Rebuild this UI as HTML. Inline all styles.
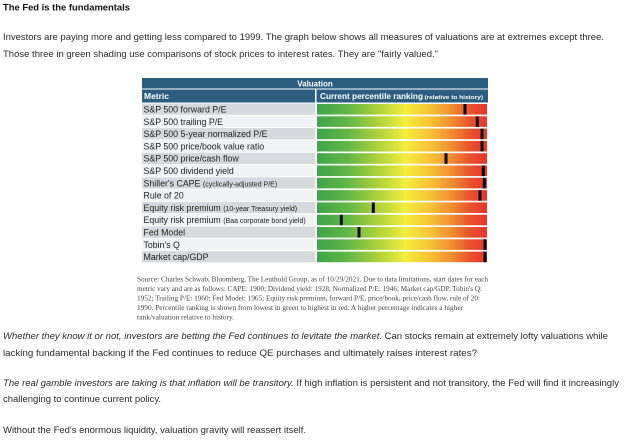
<!DOCTYPE html>
<html>
<head>
<meta charset="utf-8">
<style>
  html,body{margin:0;padding:0;background:#fff;}
  svg{display:block;}
  .p{font-family:"Liberation Sans",Arial,sans-serif;font-size:9.4px;fill:#2a2a2a;}
  .lb{font-family:"Liberation Sans",Arial,sans-serif;font-size:8.8px;fill:#1e1e1e;}
  .hd{font-family:"Liberation Sans",Arial,sans-serif;font-weight:bold;fill:#fff;}
  .src{font-family:"Liberation Serif","Times New Roman",serif;font-size:7.1px;fill:#444;}
</style>
</head>
<body>
<svg width="624" height="441" viewBox="0 0 624 441" xmlns="http://www.w3.org/2000/svg">
  <defs>
    <linearGradient id="g" gradientUnits="userSpaceOnUse" x1="317" y1="0" x2="487" y2="0">
      <stop offset="0" stop-color="#3da54a"/>
      <stop offset="0.18" stop-color="#62b646"/>
      <stop offset="0.36" stop-color="#aed33c"/>
      <stop offset="0.52" stop-color="#f4ee3d"/>
      <stop offset="0.66" stop-color="#f6c535"/>
      <stop offset="0.79" stop-color="#f08f2f"/>
      <stop offset="0.9" stop-color="#e9512c"/>
      <stop offset="1" stop-color="#e4372b"/>
    </linearGradient>
  </defs>

  <!-- Title & intro -->
  <text x="3" y="10.5" font-family="Liberation Sans, Arial, sans-serif" font-weight="bold" font-size="9.4" fill="#111" textLength="127" lengthAdjust="spacingAndGlyphs">The Fed is the fundamentals</text>
  <text class="p" x="3" y="40" textLength="601" lengthAdjust="spacingAndGlyphs">Investors are paying more and getting less compared to 1999. The graph below shows all measures of valuations are at extremes except three.</text>
  <text class="p" x="3" y="57" textLength="435" lengthAdjust="spacingAndGlyphs">Those three in green shading use comparisons of stock prices to interest rates. They are "fairly valued."</text>

  <!-- Chart header -->
  <rect x="142" y="78" width="346" height="10.5" fill="#2d5e7f"/>
  <text class="hd" x="315" y="86.5" font-size="8" text-anchor="middle">Valuation</text>
  <rect x="142" y="89.5" width="173" height="13" fill="#2d5e7f"/>
  <rect x="316.5" y="89.5" width="171.5" height="13" fill="#2d5e7f"/>
  <text class="hd" x="144" y="99" font-size="8.5" textLength="25" lengthAdjust="spacingAndGlyphs">Metric</text>
  <text class="hd" x="320" y="99" font-size="8.2" textLength="103" lengthAdjust="spacingAndGlyphs">Current percentile ranking</text>
  <text class="hd" x="424.5" y="99" font-size="5.9" textLength="58.5" lengthAdjust="spacingAndGlyphs">(relative to history)</text>

  <!-- Rows -->
  <g>
    <rect x="142" y="103.5" width="173" height="11.3" fill="#d6d9dd"/>
    <rect x="142" y="115.8" width="173" height="11.3" fill="#f1f2f3"/>
    <rect x="142" y="128.1" width="173" height="11.3" fill="#d6d9dd"/>
    <rect x="142" y="140.4" width="173" height="11.3" fill="#f1f2f3"/>
    <rect x="142" y="152.7" width="173" height="11.3" fill="#d6d9dd"/>
    <rect x="142" y="165.0" width="173" height="11.3" fill="#f1f2f3"/>
    <rect x="142" y="177.3" width="173" height="11.3" fill="#d6d9dd"/>
    <rect x="142" y="189.6" width="173" height="11.3" fill="#f1f2f3"/>
    <rect x="142" y="201.9" width="173" height="11.3" fill="#d6d9dd"/>
    <rect x="142" y="214.2" width="173" height="11.3" fill="#f1f2f3"/>
    <rect x="142" y="226.5" width="173" height="11.3" fill="#d6d9dd"/>
    <rect x="142" y="238.8" width="173" height="11.3" fill="#f1f2f3"/>
    <rect x="142" y="251.1" width="173" height="11.3" fill="#d6d9dd"/>

    <rect x="317" y="104.0" width="170" height="10.6" fill="url(#g)"/>
    <rect x="317" y="116.3" width="170" height="10.6" fill="url(#g)"/>
    <rect x="317" y="128.6" width="170" height="10.6" fill="url(#g)"/>
    <rect x="317" y="140.9" width="170" height="10.6" fill="url(#g)"/>
    <rect x="317" y="153.2" width="170" height="10.6" fill="url(#g)"/>
    <rect x="317" y="165.5" width="170" height="10.6" fill="url(#g)"/>
    <rect x="317" y="177.8" width="170" height="10.6" fill="url(#g)"/>
    <rect x="317" y="190.1" width="170" height="10.6" fill="url(#g)"/>
    <rect x="317" y="202.4" width="170" height="10.6" fill="url(#g)"/>
    <rect x="317" y="214.7" width="170" height="10.6" fill="url(#g)"/>
    <rect x="317" y="227.0" width="170" height="10.6" fill="url(#g)"/>
    <rect x="317" y="239.3" width="170" height="10.6" fill="url(#g)"/>
    <rect x="317" y="251.6" width="170" height="10.6" fill="url(#g)"/>

    <g fill="#0a0a0a">
      <rect x="463.5" y="104.0" width="3" height="10.6"/>
      <rect x="475.8" y="116.3" width="3" height="10.6"/>
      <rect x="480.5" y="128.6" width="3" height="10.6"/>
      <rect x="480.5" y="140.9" width="3" height="10.6"/>
      <rect x="444.5" y="153.2" width="3" height="10.6"/>
      <rect x="481.8" y="165.5" width="3" height="10.6"/>
      <rect x="482.8" y="177.8" width="3" height="10.6"/>
      <rect x="478.5" y="190.1" width="3" height="10.6"/>
      <rect x="371.8" y="202.4" width="3" height="10.6"/>
      <rect x="339.8" y="214.7" width="3" height="10.6"/>
      <rect x="357.5" y="227.0" width="3" height="10.6"/>
      <rect x="483.5" y="239.3" width="3" height="10.6"/>
      <rect x="483.5" y="251.6" width="3" height="10.6"/>
    </g>

    <text class="lb" x="143.5" y="112.5">S&amp;P 500 forward P/E</text>
    <text class="lb" x="143.5" y="124.8">S&amp;P 500 trailing P/E</text>
    <text class="lb" x="143.5" y="137.1">S&amp;P 500 5-year normalized P/E</text>
    <text class="lb" x="143.5" y="149.4">S&amp;P 500 price/book value ratio</text>
    <text class="lb" x="143.5" y="161.7">S&amp;P 500 price/cash flow</text>
    <text class="lb" x="143.5" y="174.0">S&amp;P 500 dividend yield</text>
    <text class="lb" x="143.5" y="186.3">Shiller's CAPE <tspan font-size="7">(cyclically-adjusted P/E)</tspan></text>
    <text class="lb" x="143.5" y="198.6">Rule of 20</text>
    <text class="lb" x="143.5" y="210.9">Equity risk premium <tspan font-size="7">(10-year Treasury yield)</tspan></text>
    <text class="lb" x="143.5" y="223.2">Equity risk premium <tspan font-size="7">(Baa corporate bond yield)</tspan></text>
    <text class="lb" x="143.5" y="235.5">Fed Model</text>
    <text class="lb" x="143.5" y="247.8">Tobin's Q</text>
    <text class="lb" x="143.5" y="260.1">Market cap/GDP</text>
  </g>

  <!-- Source -->
  <text class="src" x="137" y="281.3" textLength="351" lengthAdjust="spacingAndGlyphs">Source: Charles Schwab, Bloomberg, The Leuthold Group, as of 10/29/2021. Due to data limitations, start dates for each</text>
  <text class="src" x="137" y="290.9" textLength="345" lengthAdjust="spacingAndGlyphs">metric vary and are as follows: CAPE: 1900; Dividend yield: 1928; Normalized P/E: 1946; Market cap/GDP, Tobin's Q:</text>
  <text class="src" x="137" y="300.5" textLength="343" lengthAdjust="spacingAndGlyphs">1952; Trailing P/E: 1960; Fed Model: 1965; Equity risk premium, forward P/E, price/book, price/cash flow, rule of 20:</text>
  <text class="src" x="137" y="310.1" textLength="326" lengthAdjust="spacingAndGlyphs">1990. Percentile ranking is shown from lowest in green to highest in red. A higher percentage indicates a higher</text>
  <text class="src" x="137" y="319.7" textLength="97" lengthAdjust="spacingAndGlyphs">rank/valuation relative to history.</text>

  <!-- Lower paragraphs -->
  <text class="p" x="3" y="339" textLength="605" lengthAdjust="spacingAndGlyphs"><tspan font-style="italic">Whether they know it or not, investors are betting the Fed continues to levitate the market.</tspan> Can stocks remain at extremely lofty valuations while</text>
  <text class="p" x="3" y="356" textLength="474" lengthAdjust="spacingAndGlyphs">lacking fundamental backing if the Fed continues to reduce QE purchases and ultimately raises interest rates?</text>
  <text class="p" x="3" y="386" textLength="616" lengthAdjust="spacingAndGlyphs"><tspan font-style="italic">The real gamble investors are taking is that inflation will be transitory.</tspan> If high inflation is persistent and not transitory, the Fed will find it increasingly</text>
  <text class="p" x="3" y="402" textLength="158" lengthAdjust="spacingAndGlyphs">challenging to continue current policy.</text>
  <text class="p" x="3" y="433" textLength="303" lengthAdjust="spacingAndGlyphs">Without the Fed's enormous liquidity, valuation gravity will reassert itself.</text>
</svg>
</body>
</html>
